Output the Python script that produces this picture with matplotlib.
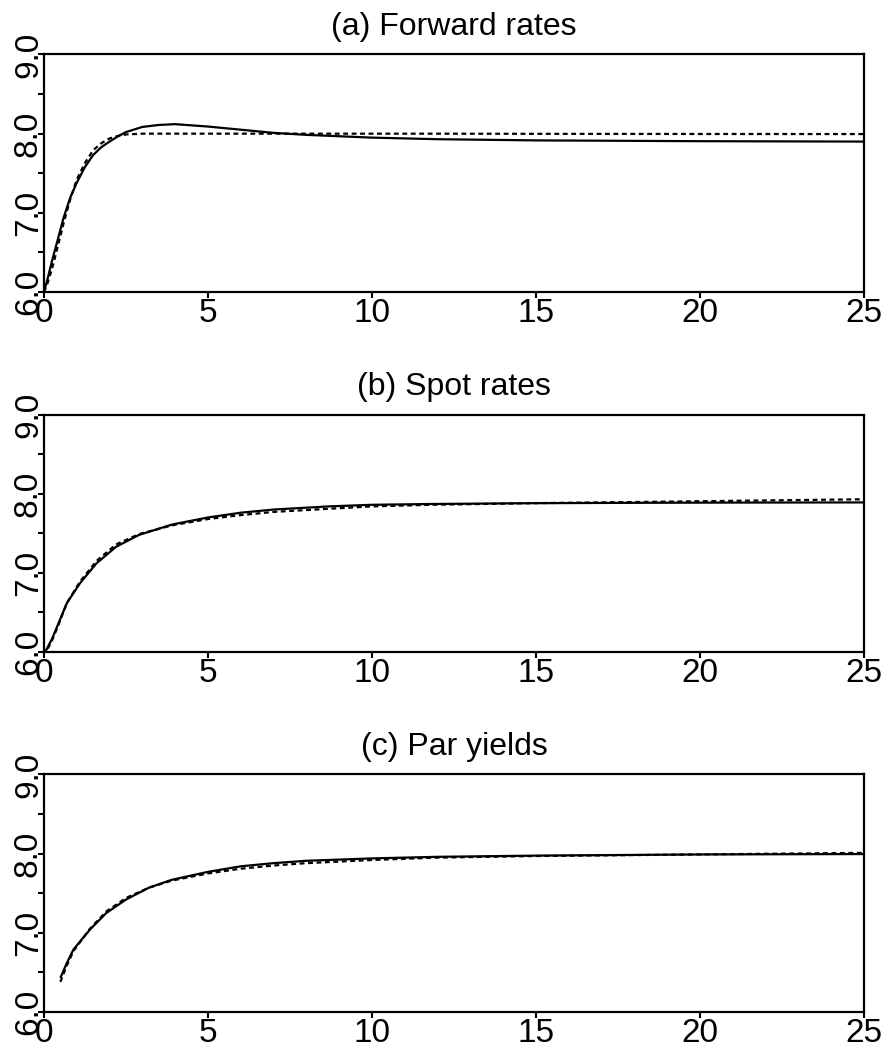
import numpy as np
import matplotlib
matplotlib.use("Agg")
import matplotlib.pyplot as plt
from matplotlib.ticker import MultipleLocator

plt.rcParams['font.family'] = ['Liberation Sans', 'DejaVu Sans']

# (a) forward rates
t_fwd = [0, 0.1, 0.25, 0.4, 0.6, 0.8, 1.0, 1.25, 1.5, 1.75, 2.0, 2.25, 2.5,
         3.0, 3.5, 4.0, 4.5, 5.0, 6.0, 7.0, 8.0, 10, 12, 15, 20, 25]
fwd_solid = [6.0, 6.15, 6.4, 6.63, 6.94, 7.19, 7.38, 7.58, 7.73, 7.83, 7.9, 7.965, 8.02,
             8.085, 8.11, 8.12, 8.105, 8.09, 8.05, 8.01, 7.985, 7.95, 7.93, 7.915, 7.905, 7.90]
fwd_dash = [6.0, 6.1, 6.3, 6.54, 6.87, 7.17, 7.42, 7.63, 7.79, 7.88, 7.94, 7.97, 7.99,
            8.0, 8.0, 8.0, 8.0, 8.0, 8.0, 8.0, 8.0, 8.0, 8.0, 7.998, 7.996, 7.995]

# (b) spot rates
t_spot = [0, 0.25, 0.4, 0.7, 1.1, 1.6, 2.2, 2.9, 3.9, 5.0, 6.0, 7.0, 8.7, 10,
          11.8, 14.8, 18, 21, 25]
spot_solid = [5.97, 6.17, 6.32, 6.62, 6.87, 7.12, 7.33, 7.48, 7.61, 7.70, 7.76, 7.80,
              7.84, 7.86, 7.87, 7.88, 7.885, 7.888, 7.89]
spot_dash = [5.95, 6.15, 6.30, 6.62, 6.89, 7.15, 7.36, 7.49, 7.60, 7.68, 7.73, 7.77,
             7.81, 7.84, 7.86, 7.88, 7.895, 7.91, 7.93]

# (c) par yields
t_par = [0.5, 0.7, 0.9, 1.4, 1.9, 2.5, 3.2, 3.9, 5.0, 6.0, 7.0, 8.0, 10, 12, 15, 20, 25]
par_solid = [6.43, 6.62, 6.79, 7.04, 7.25, 7.42, 7.57, 7.67, 7.77, 7.84, 7.88, 7.91,
             7.94, 7.96, 7.975, 7.99, 7.995]
par_dash = [6.38, 6.59, 6.77, 7.05, 7.27, 7.44, 7.57, 7.66, 7.75, 7.81, 7.85, 7.88,
            7.92, 7.95, 7.97, 7.99, 8.01]

titles = ["(a) Forward rates", "(b) Spot rates", "(c) Par yields"]
panels = [(t_fwd, fwd_solid, fwd_dash), (t_spot, spot_solid, spot_dash),
          (t_par, par_solid, par_dash)]
bottoms = [0.7219, 0.379, 0.0362]

fig = plt.figure(figsize=(8.88, 10.5), dpi=100)

for (t, s, d), title, b in zip(panels, titles, bottoms):
    ax = fig.add_axes([0.0495, b, 0.9234, 0.2262])
    ax.plot(t, s, color="black", lw=1.6, solid_capstyle="butt")
    ax.plot(t, d, color="black", lw=1.6, dashes=(2.2, 1.6))
    ax.set_xlim(0, 25)
    ax.set_ylim(6.0, 9.0)
    ax.set_xticks([0, 5, 10, 15, 20, 25])
    ax.set_yticks([6.0, 7.0, 8.0, 9.0])
    ax.set_yticklabels(["6.0", "7.0", "8.0", "9.0"], rotation=90, va="center")
    ax.yaxis.set_minor_locator(MultipleLocator(0.5))
    ax.tick_params(axis="both", which="both", direction="out", length=4,
                   width=1.5, labelsize=24, pad=0)
    ax.tick_params(axis="y", pad=-4)
    for sp in ax.spines.values():
        sp.set_linewidth(1.6)
    ax.set_title(title, fontsize=23, pad=14)

fig.savefig("out.png", dpi=100)
